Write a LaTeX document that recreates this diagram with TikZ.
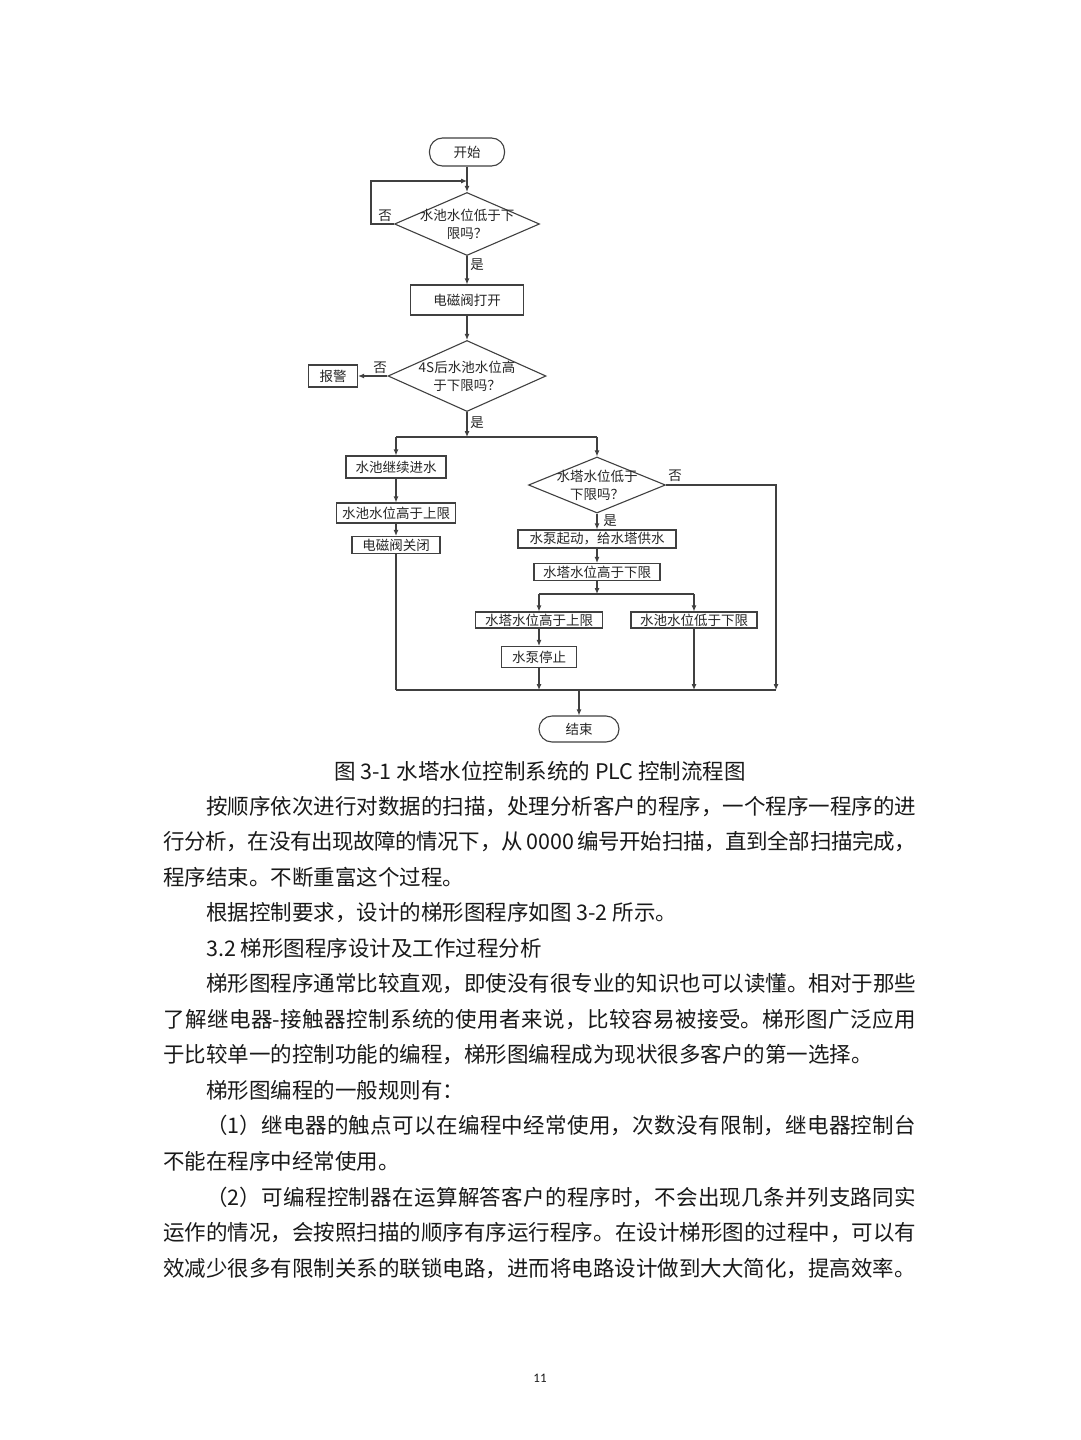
\documentclass[tikz,border=0pt]{standalone}
\usepackage{fontspec}
\setmainfont{Noto Sans CJK SC}
\newfontfamily\numfont{Carlito}
\usetikzlibrary{shapes.geometric,arrows.meta}
\begin{document}
\begin{tikzpicture}[x=1pt,y=-1pt,
  line/.style={draw=black!75, line width=1.1pt},
  arr/.style={line, -{Latex[length=6pt,width=5pt]}},
  proc/.style={draw=black!75, line width=1.1pt, rectangle, inner sep=0pt, font=\fontsize{13.5}{15}\selectfont, text=black!85},
  term/.style={proc, rounded corners=13pt},
  dec/.style={draw=black!75, line width=1.1pt, diamond, inner sep=0pt},
  dtext/.style={align=center, inner sep=0pt, font=\fontsize{13.5}{18}\selectfont, text=black!85},
  lbl/.style={font=\fontsize{13.5}{15}\selectfont, text=black!85, inner sep=0pt},
]
\fill[white] (0,0) rectangle (1080,1440);
\useasboundingbox (0,0) rectangle (1080,1440);

% flowchart
\node[term, minimum width=75pt, minimum height=28pt] (start) at (467,152) {开始};
\node[dec, minimum width=145pt, minimum height=63pt, label={[dtext]center:水池水位低于下\\限吗？}] (d1) at (467,224) {};
\coordinate (loopin) at (467,181);
\draw[arr] (start) -- (d1);
\draw[arr] (d1.west) -- ++(-23,0) |- (loopin);
\node[lbl] (no1) at (385,216) {否};
\node[lbl] (yes1) at (477,265) {是};
\node[proc, minimum width=113pt, minimum height=30pt] (b1) at (467,300) {电磁阀打开};
\draw[arr] (d1.south) -- (b1.north);
\node[dec, minimum width=158pt, minimum height=71pt, label={[dtext]center:4S后水池水位高\\于下限吗？}] (d2) at (467,376) {};
\draw[arr] (b1.south) -- (d2.north);
\node[proc, minimum width=49pt, minimum height=22pt] (alarm) at (333,376) {报警};
\draw[arr] (d2.west) -- (alarm.east);
\node[lbl] (no2) at (380,368) {否};
\node[lbl] (yes2) at (477,423) {是};
\coordinate (s1) at (467,437);
\coordinate (s1l) at (396,437);
\coordinate (s1r) at (597,437);
\draw[arr] (d2.south) -- (s1);
\draw[line] (s1l) -- (s1r);

\node[proc, minimum width=100pt, minimum height=22pt] (l1) at (396,467) {水池继续进水};
\draw[arr] (s1l) -- (l1.north);
\node[proc, minimum width=119pt, minimum height=20pt] (l2) at (396,513) {水池水位高于上限};
\draw[arr] (l1) -- (l2);
\node[proc, minimum width=88pt, minimum height=17pt] (l3) at (396,545) {电磁阀关闭};
\draw[arr] (l2) -- (l3);
\coordinate (busl) at (396,690);
\draw[line] (l3.south) -- (busl);

\node[dec, minimum width=137pt, minimum height=56pt, label={[dtext]center:水塔水位低于\\下限吗？}] (d3) at (597,485) {};
\draw[arr] (s1r) -- (d3.north);
\node[lbl] (no3) at (675,476) {否};
\coordinate (rr) at (776,690);
\draw[arr] (d3.east) -| (rr);
\node[lbl] (yes3) at (610,521) {是};
\node[proc, minimum width=158pt, minimum height=18pt] (r1) at (597,539) {水泵起动，给水塔供水};
\draw[arr] (d3.south) -- (r1.north);
\node[proc, minimum width=126pt, minimum height=17pt] (r2) at (597,572) {水塔水位高于下限};
\draw[arr] (r1) -- (r2);
\coordinate (s2) at (597,594);
\coordinate (s2l) at (539,594);
\coordinate (s2r) at (694,594);
\draw[arr] (r2.south) -- (s2);
\draw[line] (s2l) -- (s2r);
\node[proc, minimum width=127pt, minimum height=16pt] (r3) at (539,620) {水塔水位高于上限};
\node[proc, minimum width=126pt, minimum height=16pt] (r4) at (694,620) {水池水位低于下限};
\draw[arr] (s2l) -- (r3.north);
\draw[arr] (s2r) -- (r4.north);
\node[proc, minimum width=75pt, minimum height=21pt] (r5) at (539,657) {水泵停止};
\draw[arr] (r3) -- (r5);
\coordinate (b3) at (539,690);
\coordinate (b4) at (694,690);
\draw[arr] (r5.south) -- (b3);
\draw[arr] (r4.south) -- (b4);
\draw[line] (busl) -- (rr);
\coordinate (bm) at (579,690);
\node[term, minimum width=80pt, minimum height=26pt] (finish) at (579,729) {结束};
\draw[arr] (bm) -- (finish.north);

% caption
\node[font=\fontsize{21.5}{26}\selectfont, text=black!90, anchor=base, inner sep=0pt] (cap) at (540,779) {图 3-1 水塔水位控制系统的 PLC 控制流程图};

% body text
\node[anchor=base west, inner sep=0pt, text=black!90] (body) at (163,814) {\parbox[t]{753pt}{\fontsize{21.5}{35.55}\selectfont\XeTeXlinebreaklocale "zh"\XeTeXlinebreakskip=0pt plus 2pt minus 0.6pt\relax\parindent=43pt\relax
按顺序依次进行对数据的扫描，处理分析客户的程序，一个程序一程序的进\linebreak
行分析，在没有出现故障的情况下，从 0000 编号开始扫描，直到全部扫描完成，\linebreak
程序结束。不断重富这个过程。\par
根据控制要求，设计的梯形图程序如图 3-2 所示。\par
3.2 梯形图程序设计及工作过程分析\par
梯形图程序通常比较直观，即使没有很专业的知识也可以读懂。相对于那些\linebreak
了解继电器-接触器控制系统的使用者来说，比较容易被接受。梯形图广泛应用\linebreak
于比较单一的控制功能的编程，梯形图编程成为现状很多客户的第一选择。\par
梯形图编程的一般规则有：\par
（1）继电器的触点可以在编程中经常使用，次数没有限制，继电器控制台\linebreak
不能在程序中经常使用。\par
（2）可编程控制器在运算解答客户的程序时，不会出现几条并列支路同实\linebreak
运作的情况，会按照扫描的顺序有序运行程序。在设计梯形图的过程中，可以有\linebreak
效减少很多有限制关系的联锁电路，进而将电路设计做到大大简化，提高效率。}};

% page number
\node[font=\numfont\fontsize{13}{15}\selectfont, text=black!90, inner sep=0pt] (pg) at (540,1378) {11};
\end{tikzpicture}
\end{document}
